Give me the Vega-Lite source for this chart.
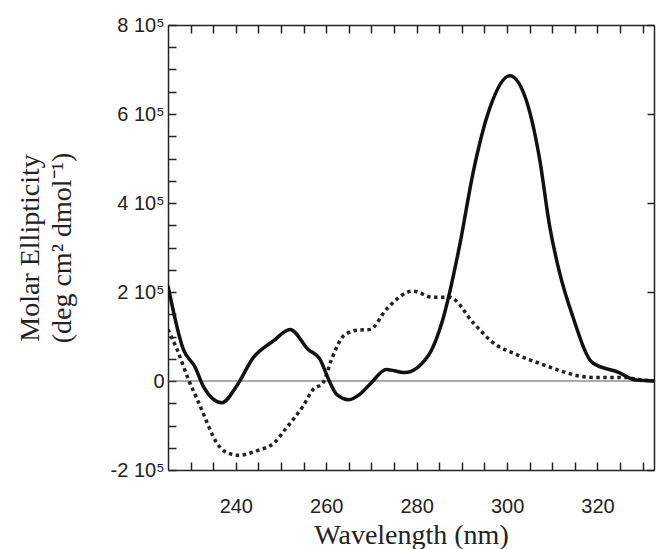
{
  "$schema": "https://vega.github.io/schema/vega-lite/v6.json",
  "width": 486,
  "height": 445,
  "autosize": "none",
  "padding": {"left": 168, "top": 25, "right": 3, "bottom": 79},
  "background": "white",
  "config": {"view": {"stroke": null}},
  "resolve": {"axis": {"x": "independent", "y": "independent"}},
  "datasets": {
    "solid": [
      {"nm": 225, "v": 214000}, {"nm": 228.4, "v": 71000}, {"nm": 231, "v": 31000}, {"nm": 232.9, "v": -14000},
      {"nm": 236.9, "v": -49000}, {"nm": 240.2, "v": -11000}, {"nm": 243.9, "v": 53000}, {"nm": 248.3, "v": 90000},
      {"nm": 252, "v": 116000}, {"nm": 256, "v": 71000}, {"nm": 258.6, "v": 49000}, {"nm": 260.5, "v": 4000},
      {"nm": 262.3, "v": -30000}, {"nm": 265, "v": -42000}, {"nm": 267.4, "v": -30000}, {"nm": 269.7, "v": -7000},
      {"nm": 273.3, "v": 26000}, {"nm": 277.4, "v": 19000}, {"nm": 282.5, "v": 56000}, {"nm": 285.8, "v": 139000},
      {"nm": 289.5, "v": 304000}, {"nm": 292.5, "v": 469000}, {"nm": 296.1, "v": 611000}, {"nm": 300.6, "v": 686000},
      {"nm": 303.9, "v": 641000}, {"nm": 307.2, "v": 499000}, {"nm": 309.4, "v": 349000}, {"nm": 311.6, "v": 244000},
      {"nm": 314.5, "v": 146000}, {"nm": 318.9, "v": 41000}, {"nm": 324.8, "v": 19000}, {"nm": 328.5, "v": 2000},
      {"nm": 333, "v": 0}
    ],
    "dotted": [
      {"nm": 225, "v": 116000}, {"nm": 227, "v": 71000}, {"nm": 229.5, "v": 4000}, {"nm": 232.1, "v": -56000},
      {"nm": 235.8, "v": -139000}, {"nm": 237.3, "v": -157000}, {"nm": 240.6, "v": -167000}, {"nm": 244.6, "v": -157000},
      {"nm": 248.7, "v": -137000}, {"nm": 250.9, "v": -109000}, {"nm": 254.9, "v": -56000}, {"nm": 257.1, "v": -19000},
      {"nm": 259.3, "v": -4000}, {"nm": 261.2, "v": 49000}, {"nm": 263.8, "v": 101000}, {"nm": 266.7, "v": 114000},
      {"nm": 269.7, "v": 116000}, {"nm": 273.3, "v": 161000}, {"nm": 279.2, "v": 202000}, {"nm": 283.6, "v": 188000},
      {"nm": 287.3, "v": 188000}, {"nm": 292.5, "v": 131000}, {"nm": 296.9, "v": 86000}, {"nm": 302, "v": 60000},
      {"nm": 308.7, "v": 34000}, {"nm": 312, "v": 22000}, {"nm": 318.9, "v": 8000}, {"nm": 326.3, "v": 8000},
      {"nm": 328.5, "v": 4000}, {"nm": 333, "v": 0}
    ],
    "zero": [{"v": 0}]
  },
  "layer": [
    {
      "data": {"name": "zero"},
      "mark": {"type": "rule", "color": "#555", "strokeWidth": 1},
      "encoding": {
        "y": {
          "field": "v", "type": "quantitative",
          "scale": {"domain": [-200000, 800000], "nice": false},
          "axis": {
            "title": ["Molar Ellipticity", "(deg cm² dmol⁻¹)"],
            "titleFont": "Liberation Serif", "titleFontSize": 28, "titleFontWeight": "normal",
            "titleColor": "#222", "titlePadding": 34, "titleLineHeight": 32,
            "values": [-200000, -150000, -100000, -50000, 0, 50000, 100000, 150000, 200000, 250000, 300000, 350000, 400000, 450000, 500000, 550000, 600000, 650000, 700000, 750000, 800000],
            "labelExpr": "datum.value % 200000 != 0 ? '' : datum.value == 0 ? '0' : (datum.value / 100000) + ' 10⁵'",
            "labelFont": "Liberation Sans", "labelFontSize": 20, "labelColor": "#222",
            "tickSize": -8, "tickColor": "#222", "tickWidth": 1.5, "labelPadding": 12,
            "domainColor": "#222", "domainWidth": 1.5, "grid": false
          }
        }
      }
    },
    {
      "data": {"name": "zero"},
      "mark": {"type": "rule", "opacity": 0},
      "encoding": {
        "y": {
          "field": "v", "type": "quantitative",
          "axis": {
            "orient": "right", "title": null, "labels": false, "grid": false,
            "values": [-200000, 0, 200000, 400000, 600000, 800000],
            "tickSize": -7, "tickColor": "#222", "tickWidth": 1.5,
            "domainColor": "#222", "domainWidth": 1.5
          }
        }
      }
    },
    {
      "data": {"name": "dotted"},
      "mark": {"type": "line", "color": "#222", "strokeWidth": 3.5, "strokeDash": [3.5, 3.5], "interpolate": "monotone", "clip": true},
      "encoding": {
        "x": {
          "field": "nm", "type": "quantitative",
          "scale": {"domain": [225, 332.5], "nice": false},
          "axis": {
            "title": "Wavelength (nm)",
            "titleFont": "Liberation Serif", "titleFontSize": 28, "titleFontWeight": "normal",
            "titleColor": "#222", "titlePadding": 5,
            "values": [230, 235, 240, 245, 250, 255, 260, 265, 270, 275, 280, 285, 290, 295, 300, 305, 310, 315, 320, 325, 330],
            "labelExpr": "datum.value % 20 == 0 ? datum.value : ''",
            "labelFont": "Liberation Sans", "labelFontSize": 20, "labelColor": "#222",
            "tickSize": -8, "tickColor": "#222", "tickWidth": 1.5, "labelPadding": 34,
            "domainColor": "#222", "domainWidth": 1.5, "grid": false
          }
        },
        "y": {"field": "v", "type": "quantitative", "axis": null}
      }
    },
    {
      "data": {"name": "solid"},
      "mark": {"type": "line", "color": "#111", "strokeWidth": 3.5, "interpolate": "monotone", "clip": true},
      "encoding": {
        "x": {
          "field": "nm", "type": "quantitative",
          "axis": {
            "orient": "top", "title": null, "labels": false, "grid": false,
            "values": [230, 235, 240, 245, 250, 255, 260, 265, 270, 275, 280, 285, 290, 295, 300, 305, 310, 315, 320, 325, 330],
            "tickSize": -8, "tickColor": "#222", "tickWidth": 1.5,
            "domainColor": "#222", "domainWidth": 1.5
          }
        },
        "y": {"field": "v", "type": "quantitative", "axis": null}
      }
    }
  ]
}
